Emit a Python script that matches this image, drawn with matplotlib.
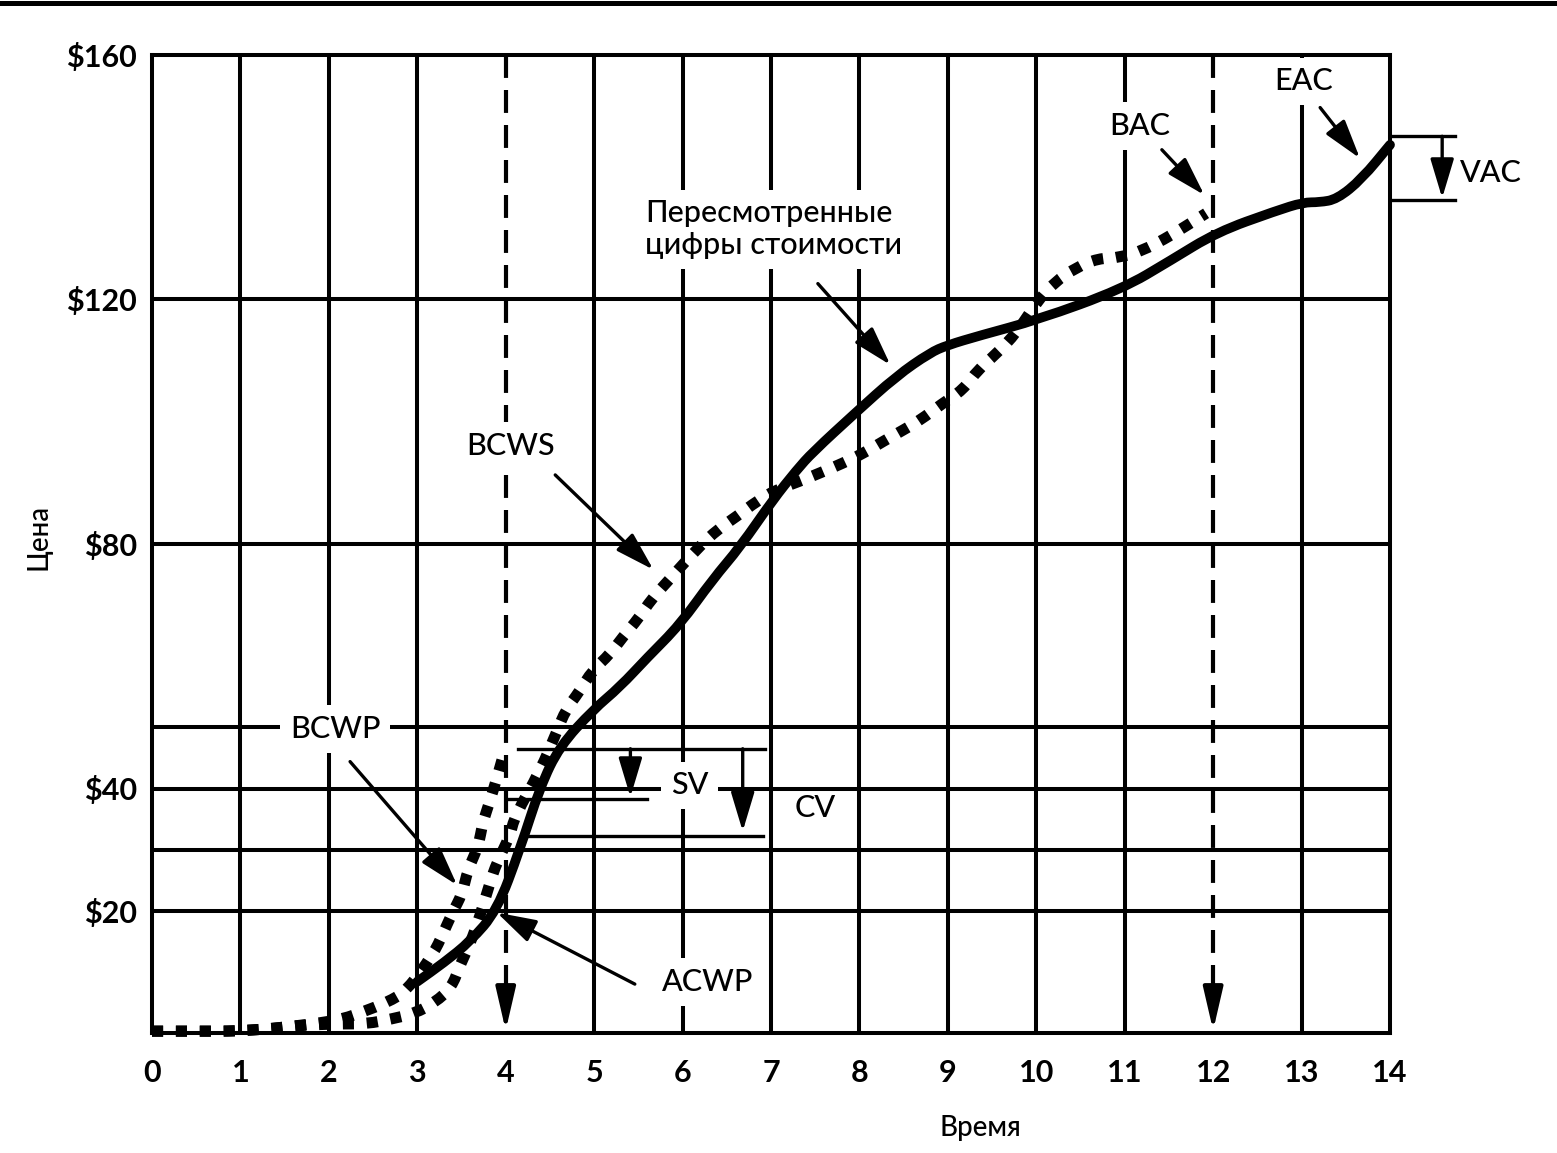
import matplotlib
matplotlib.use("Agg")
import matplotlib.pyplot as plt
from matplotlib.lines import Line2D
from matplotlib.path import Path
from matplotlib.patches import PathPatch

plt.rcParams['font.family'] = ['Lato', 'DejaVu Sans']

# --- data ---
x_ticks = list(range(0, 15))
y_ticks = [20, 40, 80, 120, 160]
y_tick_labels = ["$20", "$40", "$80", "$120", "$160"]
h_grid = [20, 30, 40, 50, 80, 120]
v_grid = [1, 2, 3, 5, 6, 7, 8, 9, 10, 11, 13]
v_dashed = [4, 12]          # status date and planned finish

# planned (continues to BAC)
bcws_t = [0, 0.3, 0.6, 0.85, 1.1, 1.37, 1.64, 1.9, 2.16, 2.43, 2.71, 2.97, 3.2, 3.39, 3.48,
          3.6, 3.71, 3.82, 3.9, 4.05, 4.1, 4.39, 4.58, 4.68, 4.83, 4.98, 5.18, 5.33, 5.5,
          5.65, 5.82, 6.0, 6.2, 6.39, 6.62, 6.84, 7.05, 7.33, 7.55, 7.81, 8.04, 8.27, 8.49,
          8.68, 8.94, 9.17, 9.34, 9.54, 9.78, 10.0, 10.21, 10.45, 10.69, 10.97, 11.21,
          11.44, 11.68, 11.92]
bcws_v = [0.3, 0.3, 0.3, 0.3, 0.45, 0.75, 1.2, 1.4, 1.5, 1.5, 2.3, 3.2, 5.0, 7.5, 11.0,
          14.7, 19.2, 24.5, 27.9, 32.3, 35.4, 42.9, 49.4, 52.9, 55.8, 59.3, 62.0, 64.9, 67.8,
          71.0, 73.7, 76.6, 79.7, 82.3, 84.6, 87.0, 88.8, 90.3, 91.6, 93.2, 94.8, 96.8, 98.6,
          100.2, 103.0, 105.2, 108.5, 111.0, 114.6, 119.5, 122.9, 125.2, 126.7, 126.9, 128.1,
          129.8, 131.9, 134.1]

# earned (stops at status date)
bcwp_t = [0, 0.3, 0.6, 0.85, 1.1, 1.37, 1.64, 1.9, 2.16, 2.39, 2.66, 2.88, 3.18, 3.29,
          3.39, 3.51, 3.57, 3.69, 3.74, 3.82, 3.9, 3.97]
bcwp_v = [0.3, 0.3, 0.3, 0.3, 0.45, 0.75, 1.2, 1.65, 2.3, 3.5, 5.0, 6.9, 12.9, 16.2,
          19.5, 22.8, 26.7, 30.5, 34.4, 37.9, 41.7, 45.3]

# actual + revised estimate (to EAC)
acwp_t = [3.0, 3.3, 3.6, 3.9, 4.16, 4.39, 4.61, 4.99, 5.29, 5.6, 5.97, 6.34, 6.65, 7.02,
          7.29, 7.47, 7.95, 8.42, 8.8, 8.99, 9.36, 10.02, 10.97, 11.52, 12.04, 12.71,
          13.02, 13.2, 13.4, 13.68, 14.0]
acwp_v = [8.4, 11.5, 15.0, 20.0, 30.0, 40.3, 46.9, 52.9, 56.6, 61.4, 66.8, 74.2, 79.5, 87.2,
          92.1, 95.0, 101.4, 107.5, 111.3, 112.5, 114.1, 116.7, 121.7, 126.4, 131.0, 134.5,
          135.9, 135.9, 136.4, 139.7, 145.3]

fig = plt.figure(figsize=(15.57, 11.53), dpi=100)
ax = fig.add_axes([152 / 1557, 1 - 1033 / 1153, (1390 - 152) / 1557, (1033 - 55) / 1153])
ax.set_xlim(0, 14)
ax.set_ylim(0, 160)

for s in ax.spines.values():
    s.set_linewidth(2.9)
    s.set_color('black')

# grid
for y in h_grid:
    ax.axhline(y, color='black', lw=2.9, zorder=1)
for x in v_grid:
    ax.axvline(x, color='black', lw=2.9, zorder=1)
for x in v_dashed:
    ax.plot([x, x], [160, 5], color='black', lw=3, dashes=(5.5, 2.9), zorder=2)
    ax.annotate("", xy=(x, 0.4), xytext=(x, 8),
                arrowprops=dict(arrowstyle="-|>,head_length=1.3,head_width=0.3",
                                mutation_scale=20, color='black', lw=3, shrinkA=0, shrinkB=0),
                zorder=2)


def smooth_curve(t, v, **kw):
    # quadratic bezier through midpoints so the read points join without kinks
    pts = list(zip(t, v))
    verts = [pts[0]]
    codes = [Path.MOVETO]
    mids = [((pts[i][0] + pts[i + 1][0]) / 2, (pts[i][1] + pts[i + 1][1]) / 2)
            for i in range(len(pts) - 1)]
    verts.append(mids[0])
    codes.append(Path.LINETO)
    for i in range(1, len(pts) - 1):
        verts += [pts[i], mids[i]]
        codes += [Path.CURVE3, Path.CURVE3]
    verts.append(pts[-1])
    codes.append(Path.LINETO)
    patch = PathPatch(Path(verts, codes), fill=False, edgecolor='black', clip_on=False, **kw)
    ax.add_patch(patch)
    return patch


smooth_curve(bcws_t, bcws_v, lw=8, linestyle=(0, (1.0, 1.15)), capstyle='butt', zorder=4)
smooth_curve(bcwp_t, bcwp_v, lw=8, linestyle=(0, (1.0, 1.15)), capstyle='butt', zorder=4)
smooth_curve(acwp_t, acwp_v, lw=7, capstyle='round', joinstyle='round', zorder=3)

ax.set_xticks(x_ticks)
ax.set_xticklabels([str(t) for t in x_ticks])
ax.set_yticks(y_ticks)
ax.set_yticklabels(y_tick_labels)
ax.tick_params(length=0, labelsize=22)
ax.tick_params(axis='x', pad=19)
ax.tick_params(axis='y', pad=11)
for lab in ax.get_xticklabels() + ax.get_yticklabels():
    lab.set_fontweight('bold')

box = dict(facecolor='white', edgecolor='none', pad=7)
fs = 22
fw = 'medium'


def arrow(start, tip):
    ax.annotate("", xy=tip, xytext=start, annotation_clip=False,
                arrowprops=dict(arrowstyle="-|>,head_length=1.2,head_width=0.36",
                                mutation_scale=20, color='black', lw=2.4,
                                shrinkA=0, shrinkB=0), zorder=6)


# labels with arrows
ax.text(2.07, 49.7, "BCWP", fontsize=fs, fontweight=fw, ha='center', va='center',
        bbox=box, zorder=5)
arrow((2.24, 44.4), (3.45, 24.2))

ax.text(4.05, 96.1, "BCWS", fontsize=fs, fontweight=fw, ha='center', va='center',
        bbox=box, zorder=5)
arrow((4.56, 91.3), (5.67, 75.8))

ax.text(6.28, 8.3, "ACWP", fontsize=fs, fontweight=fw, ha='center', va='center',
        bbox=box, zorder=5)
arrow((5.46, 8.0), (3.9, 19.7))

ax.text(5.575, 131.5, "Пересмотренные\nцифры стоимости", fontsize=fs, fontweight=fw,
        ha='left', va='center', linespacing=1.15, bbox=box, zorder=5)
arrow((7.53, 122.6), (8.35, 109.3))

ax.text(11.17, 148.4, "BAC", fontsize=fs, fontweight=fw, ha='center', va='center',
        bbox=box, zorder=5)
arrow((11.42, 144.5), (11.9, 137.1))

ax.text(13.02, 155.7, "EAC", fontsize=fs, fontweight=fw, ha='center', va='center',
        bbox=box, zorder=5)
arrow((13.21, 151.4), (13.66, 143.1))

# SV / CV brackets
ax.plot([4.14, 6.93], [46.5, 46.5], color='black', lw=2.4, zorder=5)
ax.plot([4.01, 5.60], [38.3, 38.3], color='black', lw=2.4, zorder=5)
ax.plot([4.20, 6.91], [32.2, 32.2], color='black', lw=2.4, zorder=5)
arrow((5.41, 46.5), (5.41, 38.6))
arrow((6.68, 46.5), (6.68, 33.0))
ax.text(6.08, 40.5, "SV", fontsize=fs, fontweight=fw, ha='center', va='center',
        bbox=box, zorder=5)
ax.text(7.5, 36.8, "CV", fontsize=fs, fontweight=fw, ha='center', va='center', zorder=5)

# VAC bracket outside the frame
ax.plot([14.0, 14.73], [146.7, 146.7], color='black', lw=2.4, clip_on=False, zorder=5)
ax.plot([14.0, 14.73], [136.2, 136.2], color='black', lw=2.4, clip_on=False, zorder=5)
arrow((14.59, 146.7), (14.59, 136.6))
ax.text(14.79, 140.7, "VAC", fontsize=fs, fontweight=fw, ha='left', va='center', zorder=5)

# axis titles
fig.text(980 / 1557, 1 - 1128 / 1153, "Время", fontsize=20, fontweight=fw,
         ha='center', va='center')
fig.text(38 / 1557, 1 - 537 / 1153, "Цена", fontsize=20, fontweight=fw,
         ha='center', va='center', rotation=90)

# scan border at the top
fig.add_artist(Line2D([0, 1], [1 - 2.5 / 1153, 1 - 2.5 / 1153], transform=fig.transFigure,
                      color='black', lw=3.6))

fig.savefig("out.png", dpi=100)
